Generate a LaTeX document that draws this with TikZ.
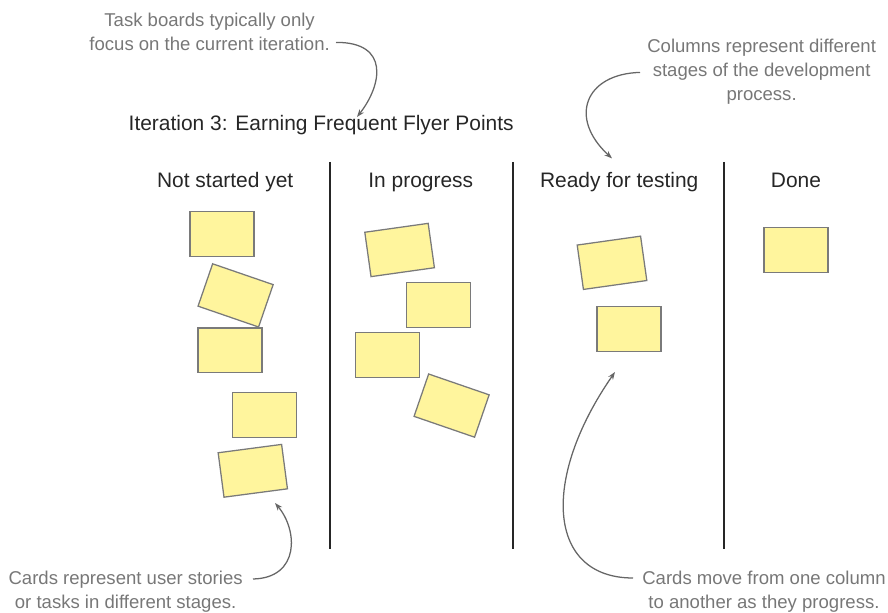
\documentclass[tikz,border=0pt]{standalone}
\usepackage{fontspec}
\setmainfont{Liberation Sans}
\usetikzlibrary{arrows.meta,positioning}

\definecolor{notegray}{HTML}{777777}
\definecolor{arrowgray}{HTML}{666666}
\definecolor{cardfill}{HTML}{FFF59D}
\definecolor{cardline}{HTML}{7A7A7A}
\definecolor{inkdark}{HTML}{262626}

\begin{document}
\begin{tikzpicture}[
  font=\fontsize{14.9}{18}\selectfont,
  >={Stealth[length=5.5pt,width=4pt]},
  card/.style={draw=cardline, line width=0.9pt, fill=cardfill,
               minimum width=1.6cm, minimum height=1.12cm, inner sep=0pt},
  colhead/.style={text=inkdark, inner sep=0pt, anchor=base},
  note/.style={text=notegray, align=center, inner sep=0pt,
               font=\fontsize{13.2}{17}\selectfont},
  callout/.style={->, arrowgray, line width=0.9pt},
  divider/.style={inkdark, line width=1pt},
]
\useasboundingbox (0,0) rectangle (22.2,15.3);

%% -- Board title and column headings -----------------------------------------
\node[colhead, anchor=base west] (title) at (3.21,12.03)
  {Iteration 3: Earning Frequent Flyer Points};
\node[colhead] (hnot)   at (5.63,10.6)  {Not started yet};
\node[colhead] (hprog)  at (10.52,10.6) {In progress};
\node[colhead] (hready) at (15.48,10.6) {Ready for testing};
\node[colhead] (hdone)  at (19.9,10.6)  {Done};

%% -- Column dividers ---------------------------------------------------------
\draw[divider] (8.25,11.25)  -- (8.25,1.575);
\draw[divider] (12.825,11.25) -- (12.825,1.575);
\draw[divider] (18.1,11.25)  -- (18.1,1.575);

%% -- Cards: not started yet --------------------------------------------------
\node[card]             (cnot1) at (5.55,9.45)  {};
\node[card, rotate=-19] (cnot2) at (5.89,7.915) {};
\node[card]             (cnot3) at (5.75,6.54)  {};
\node[card]             (cnot4) at (6.61,4.93)  {};
\node[card, rotate=7.5] (cnot5) at (6.32,3.53)  {};

%% -- Cards: in progress ------------------------------------------------------
\node[card, rotate=8]   (cprog1) at (9.99,9.05)  {};
\node[card]             (cprog2) at (10.955,7.68) {};
\node[card]             (cprog3) at (9.69,6.42)  {};
\node[card, rotate=-19] (cprog4) at (11.29,5.16) {};

%% -- Cards: ready for testing and done ---------------------------------------
\node[card, rotate=8]   (cready1) at (15.3,8.73)   {};
\node[card]             (cready2) at (15.725,7.075) {};
\node[card]             (cdone1)  at (19.9,9.055)  {};

%% -- Notes -------------------------------------------------------------------
\node[note] (nfocus) at (5.24,14.5)
  {Task boards typically only\\focus on the current iteration.};
\node[note] (ncols) at (19.04,13.5)
  {Columns represent different\\stages of the development\\process.};
\node[note] (ncards) at (3.14,0.51)
  {Cards represent user stories\\or tasks in different stages.};
\node[note] (nmove) at (19.1,0.51)
  {Cards move from one column\\to another as they progress.};

%% -- Callout arrows ----------------------------------------------------------
\coordinate (focusfrom) at (8.4,14.24);
\coordinate (focusto)   at (8.925,12.375);
\coordinate (colsfrom)  at (16.0,13.49);
\coordinate (colsto)    at (15.3,11.34);
\coordinate (cardsfrom) at (6.325,0.825);
\coordinate (cardsto)   at (6.875,2.725);
\coordinate (movefrom)  at (15.825,0.85);
\coordinate (moveto)    at (15.375,6.0);
\draw[callout] (focusfrom) .. controls (9.75,14.25) and (9.55,13.175) .. (focusto);
\draw[callout] (colsfrom) .. controls (14.625,13.45) and (14.2,12.35) .. (colsto);
\draw[callout] (cardsfrom) .. controls (7.5,0.85) and (7.45,2.05) .. (cardsto);
\draw[callout] (movefrom) .. controls (13.7,0.85) and (13.5,3.3) .. (moveto);

\end{tikzpicture}
\end{document}
